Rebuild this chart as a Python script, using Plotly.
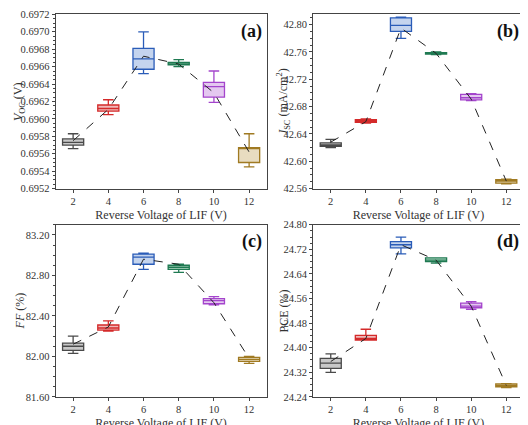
import plotly.graph_objects as go

volts = [2, 4, 6, 8, 10, 12]
colors = ["#4a4a4a", "#d42a2a", "#2a5cb8", "#1f7a52", "#a445cc", "#a07a22"]
fills = ["#c8c8c8", "#f0b8b8", "#c4d4ee", "#b8dcc8", "#e4c8f0", "#e8dcc0"]

voc_lf = [0.69566, 0.69605, 0.69652, 0.69660, 0.69619, 0.69545]
voc_q1 = [0.69570, 0.69609, 0.69657, 0.69662, 0.69625, 0.69550]
voc_md = [0.69573, 0.69612, 0.69669, 0.69663, 0.69637, 0.69566]
voc_q3 = [0.69577, 0.69616, 0.69681, 0.69665, 0.69642, 0.69567]
voc_uf = [0.69583, 0.69622, 0.69700, 0.69668, 0.69655, 0.69583]
voc_mn = [0.69575, 0.69611, 0.69672, 0.69663, 0.69630, 0.69562]

jsc_lf = [42.620, 42.656, 42.780, 42.756, 42.689, 42.567]
jsc_q1 = [42.622, 42.657, 42.790, 42.757, 42.690, 42.568]
jsc_md = [42.624, 42.659, 42.799, 42.758, 42.693, 42.571]
jsc_q3 = [42.627, 42.661, 42.810, 42.759, 42.698, 42.573]
jsc_uf = [42.632, 42.662, 42.811, 42.760, 42.699, 42.574]
jsc_mn = [42.628, 42.658, 42.795, 42.758, 42.691, 42.571]

ff_lf = [82.03, 82.25, 82.86, 82.83, 82.51, 81.93]
ff_q1 = [82.06, 82.26, 82.91, 82.86, 82.52, 81.95]
ff_md = [82.10, 82.28, 82.98, 82.88, 82.55, 81.97]
ff_q3 = [82.13, 82.31, 83.01, 82.90, 82.57, 81.99]
ff_uf = [82.20, 82.35, 83.02, 82.91, 82.59, 82.00]
ff_mn = [82.12, 82.29, 82.96, 82.91, 82.53, 81.98]

pce_lf = [24.320, 24.425, 24.705, 24.675, 24.525, 24.270]
pce_q1 = [24.333, 24.425, 24.725, 24.680, 24.530, 24.273]
pce_md = [24.350, 24.430, 24.735, 24.685, 24.535, 24.277]
pce_q3 = [24.365, 24.440, 24.745, 24.692, 24.545, 24.282]
pce_uf = [24.380, 24.460, 24.760, 24.692, 24.550, 24.283]
pce_mn = [24.355, 24.430, 24.735, 24.685, 24.535, 24.277]

panels = [
    ("<i>V</i><sub>OC</sub> (V)", "(a)", voc_lf, voc_q1, voc_md, voc_q3, voc_uf, voc_mn,
     [0.6952, 0.6972], 0.0002, ".4f", [0.09, 0.49], [0.575, 0.985], 0.022),
    ("<i>J</i><sub>SC</sub> (mA/cm<sup>2</sup>)", "(b)", jsc_lf, jsc_q1, jsc_md, jsc_q3, jsc_uf, jsc_mn,
     [42.56, 42.815], 0.04, ".2f", [0.578, 0.977], [0.575, 0.985], 0.522),
    ("<i>FF</i> (%)", "(c)", ff_lf, ff_q1, ff_md, ff_q3, ff_uf, ff_mn,
     [81.6, 83.3], 0.4, ".2f", [0.09, 0.49], [0.085, 0.49], 0.022),
    ("PCE (%)", "(d)", pce_lf, pce_q1, pce_md, pce_q3, pce_uf, pce_mn,
     [24.24, 24.80], 0.08, ".2f", [0.578, 0.977], [0.085, 0.49], 0.522),
]

fig = go.Figure()
font = dict(family="Liberation Serif", color="#333", size=10.5)
tfont = dict(family="Liberation Serif", size=12, color="#333")
for i, (ytitle, lab, lf, q1, md, q3, uf, mn, yr, dt, fmt, xd, yd, tx) in enumerate(panels):
    n = "" if i == 0 else str(i + 1)
    xa, ya = "x" + n, "y" + n
    for j, v in enumerate(volts):
        fig.add_trace(go.Box(x=[v], q1=[q1[j]], median=[md[j]], q3=[q3[j]],
                             lowerfence=[lf[j]], upperfence=[uf[j]],
                             width=1.2, whiskerwidth=0.5, line=dict(color=colors[j], width=1.3),
                             fillcolor=fills[j], showlegend=False, boxpoints=False,
                             xaxis=xa, yaxis=ya))
    fig.add_trace(go.Scatter(x=volts, y=mn, mode="lines",
                             line=dict(color="#222", dash="dash", width=1),
                             showlegend=False, xaxis=xa, yaxis=ya))
    common = dict(showline=True, linecolor="#444", linewidth=1, mirror=True,
                  ticks="outside", ticklen=3, tickcolor="#444", showgrid=False,
                  zeroline=False, tickfont=font, automargin=False)
    fig.layout["xaxis" + n] = dict(domain=xd, anchor=ya, range=[1, 13],
                                   tickvals=volts, title=dict(text="Reverse Voltage of LIF (V)",
                                   font=tfont, standoff=4), **common)
    fig.layout["yaxis" + n] = dict(domain=yd, anchor=xa, range=yr, dtick=dt, tick0=yr[0],
                                   tickformat=fmt,
                                   minor=dict(ticks="outside", ticklen=2, tickcolor="#444"),
                                   **common)
    fig.add_annotation(x=tx, y=(yd[0] + yd[1]) / 2, xref="paper", yref="paper",
                       text=ytitle, textangle=-90, showarrow=False, font=tfont,
                       xanchor="center", yanchor="middle")
    fig.add_annotation(x=xd[1] - 0.005, y=yd[1] - 0.01, xref="paper", yref="paper",
                       xanchor="right", yanchor="top", text="<b>" + lab + "</b>",
                       showarrow=False, font=dict(family="Liberation Serif", size=18, color="#111"))

fig.update_layout(width=528, height=425, margin=dict(l=0, r=0, t=0, b=0),
                  plot_bgcolor="white", paper_bgcolor="white")
fig.write_html("out.html")
